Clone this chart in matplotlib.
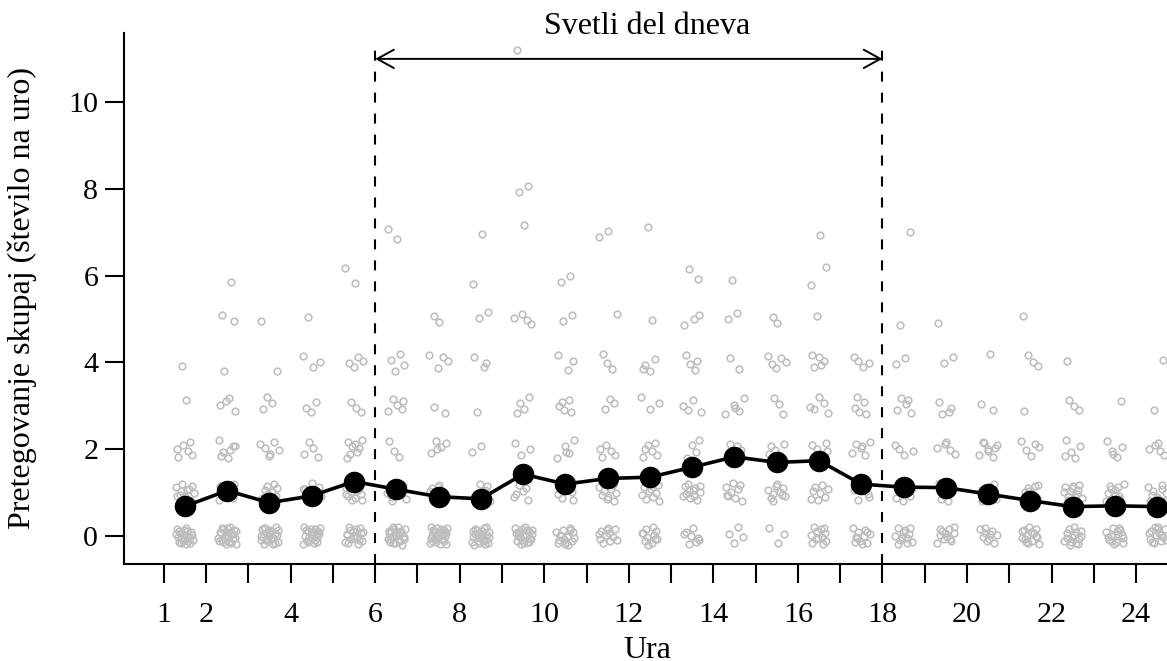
import matplotlib
matplotlib.use("Agg")
import matplotlib.pyplot as plt
import numpy as np

plt.rcParams['font.family'] = ['Liberation Serif', 'DejaVu Serif']
plt.rcParams['lines.scale_dashes'] = False

# ---------------- data ----------------
hours = list(range(1, 25))
mean_values = [0.68, 1.04, 0.76, 0.92, 1.25, 1.07, 0.90, 0.85, 1.42, 1.19,
               1.32, 1.35, 1.58, 1.82, 1.69, 1.73, 1.19, 1.12, 1.11, 0.96,
               0.81, 0.67, 0.69, 0.67]
# number of observations per hour at count level 0, 1, 2, ...
level_counts = [
    [22, 12, 6, 1, 1],
    [24, 12, 7, 4, 1, 2, 1],
    [24, 8, 6, 3, 1, 1],
    [22, 9, 4, 3, 3, 1],
    [18, 12, 8, 3, 4, 0, 2],
    [24, 10, 3, 5, 4, 0, 0, 2],
    [26, 10, 5, 2, 4, 2],
    [24, 5, 2, 1, 3, 2, 1, 1],
    [22, 6, 3, 4, 0, 4, 0, 1, 2, 0, 0, 1],
    [16, 8, 5, 5, 3, 2, 2],
    [12, 10, 5, 3, 3, 1, 0, 2],
    [12, 10, 6, 3, 4, 1, 0, 1],
    [8, 12, 4, 4, 4, 3, 2],
    [4, 9, 4, 5, 2, 2, 1],
    [3, 10, 5, 3, 5, 2],
    [12, 8, 5, 5, 5, 1, 2, 1],
    [12, 6, 6, 5, 4],
    [12, 8, 4, 5, 2, 1, 0, 1],
    [12, 5, 5, 4, 2, 1],
    [10, 8, 8, 2, 1],
    [15, 10, 5, 1, 3, 1],
    [15, 12, 5, 3, 1],
    [15, 10, 5, 1],
    [15, 10, 5, 1, 1],
]
xtick_values = list(range(1, 25))
xtick_labels = ['1', '2', '', '4', '', '6', '', '8', '', '10', '', '12', '',
                '14', '', '16', '', '18', '', '20', '', '22', '', '24']
ytick_values = [0, 2, 4, 6, 8, 10]
daylight_start, daylight_end = 6, 18
title_text = 'Svetli del dneva'
xlabel_text = 'Ura'
ylabel_text = 'Pretegovanje skupaj (število na uro)'

# ---------------- figure ----------------
W, H = 1167, 661
fig = plt.figure(figsize=(W / 100, H / 100), dpi=100)
left_px, right_px, top_px, bottom_px = 123.5, 1172, 33.3, 564
ax = fig.add_axes([left_px / W, 1 - bottom_px / H,
                   (right_px - left_px) / W, (bottom_px - top_px) / H])
ax.set_xlim(0.047, 24.85)
ax.set_ylim(-0.653, 11.59)


def halton(i, b):
    f, r = 1.0, 0.0
    while i > 0:
        f /= b
        r += f * (i % b)
        i //= b
    return r


# jittered individual observations
px, py = [], []
k = 0
for h, cnts in zip(hours, level_counts):
    for lvl, n in enumerate(cnts):
        for _ in range(n):
            k += 1
            px.append(h + 0.5 + (halton(k, 2) - 0.5) * 0.44)
            py.append(lvl + (halton(k, 3) - 0.5) * 0.42)
ax.plot(px, py, linestyle='none', marker='o', markersize=4.8,
        markerfacecolor='none', markeredgecolor='#BEBEBE',
        markeredgewidth=1.15, zorder=2)

# hourly means
xm = [h + 0.5 for h in hours]
ax.plot(xm, mean_values, color='black', linewidth=2.6, marker='o',
        markersize=14.5, markerfacecolor='black', markeredgecolor='black',
        zorder=4)

# daylight markers
for xv in (daylight_start, daylight_end):
    ax.plot([xv, xv], [-0.653, 11.36], color='black', linewidth=1.5,
            linestyle=(0, (7.2, 7.9)), zorder=3, clip_on=False)
ax.annotate('', xy=(daylight_end, 11.0), xytext=(daylight_start, 11.0),
            arrowprops=dict(arrowstyle='<->,head_length=1.2,head_width=0.66',
                            color='black', lw=1.4, shrinkA=0, shrinkB=0),
            zorder=3)
fig.text(647 / W, 1 - 27 / H, title_text, ha='center', va='center',
         fontsize=23)

# axes styling
for s in ('top', 'right'):
    ax.spines[s].set_visible(False)
for s in ('left', 'bottom'):
    ax.spines[s].set_linewidth(1.5)
ax.set_xticks(xtick_values)
ax.set_xticklabels(xtick_labels)
ax.set_yticks(ytick_values)
ax.tick_params(axis='both', direction='out', length=13.7, width=1.5,
               labelsize=21.6)
ax.tick_params(axis='x', pad=13.3)
ax.tick_params(axis='y', pad=4.5)

fig.text(647 / W, 1 - 658 / H, xlabel_text, ha='center', va='baseline',
         fontsize=23)
fig.text(22 / W, 1 - 298 / H, ylabel_text, ha='center', va='center',
         rotation=90, fontsize=23)

fig.savefig('out.png', dpi=100)
